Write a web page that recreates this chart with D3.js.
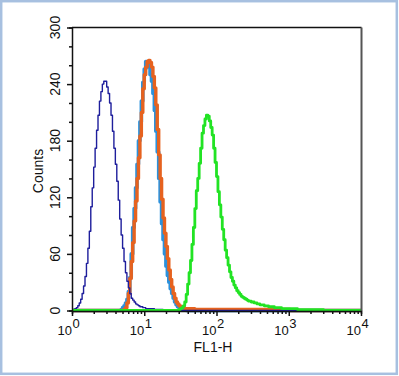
<!DOCTYPE html>
<html lang="en">
<head>
    <meta charset="UTF-8">
    <title>FL1-H histogram</title>
    <script src="https://d3js.org/d3.v7.min.js"></script>
    <style>
        body { margin: 0; background: #fff; }
        text { font-family: "Liberation Sans", Arial, sans-serif; fill: #111; }
    </style>
</head>
<body>
    <svg width="399" height="376"></svg>
    <script>
        // histogram channels: 200 bins, 0.02 decade each, from 10^0 to 10^4
        const binCount = 200;
        const binDecades = 0.02;

        // counts per bin, each series starts at its own bin index
        const navyStart = 0;
        const navyCounts = [1, 1, 2, 3, 5, 8, 12, 18, 26, 36, 50, 66, 84, 110, 130, 152, 172, 191, 207, 222,
            232, 240, 243, 243, 237, 230, 220, 207, 190, 172, 155, 137, 117, 97, 80, 66, 52, 40, 31, 24,
            18, 13, 11, 9, 7, 6, 5, 4, 4, 3, 3, 2, 2, 2, 2, 2, 2, 1, 1, 1, 1, 1, 1];

        const skyStart = 34;
        const skyCounts = [1, 3, 5, 8, 12, 20, 35, 60, 88, 108, 130, 155, 180, 200, 222, 242, 256, 264, 263, 258,
            250, 243, 230, 212, 190, 168, 140, 115, 92, 75, 60, 47, 37, 30, 23, 18, 13, 9, 6, 4,
            3, 2, 2, 1, 1];

        const orangeStart = 36;
        const orangeCounts = [1, 3, 8, 18, 34, 52, 72, 95, 116, 140, 162, 185, 210, 235, 250, 258, 264, 265, 263, 258,
            248, 236, 218, 192, 165, 140, 118, 98, 82, 68, 55, 43, 33, 25, 18, 13, 9, 7, 5, 4,
            3, 3, 2, 2, 2, 2, 2, 2, 2, 1, 1, 1, 1, 1, 1, 1, 1, 1, 1, 1,
            1, 1, 1, 1, 1, 1, 1, 1, 1, 1, 1, 1, 1, 1, 1, 1, 1, 1, 1, 1,
            1, 1, 1, 1, 1, 1, 1, 1, 1, 1, 1, 1, 1, 1, 1, 1, 1, 1, 1, 1,
            1, 1, 1, 1, 1, 1, 1, 1, 1, 1, 1, 1, 1, 1, 1];

        const greenStart = 74;
        const greenCounts = [1, 2, 3, 5, 9, 17, 28, 40, 53, 70, 88, 108, 127, 140, 156, 172, 188, 196, 203, 207,
            206, 201, 194, 186, 172, 157, 142, 126, 112, 99, 86, 75, 64, 56, 48, 41, 35, 31, 27, 24,
            21, 19, 17, 15, 14, 13, 12, 11, 10, 10, 9, 9, 8, 8, 7, 7, 6, 6, 6, 5,
            5, 5, 4, 4, 4, 4, 3, 3, 3, 3, 3, 2, 2, 2, 2, 2, 2, 2, 2, 2,
            2, 2, 1, 1, 1, 1, 1, 1, 1, 1, 1, 1, 1, 1, 1, 1, 1, 1, 1, 1];

        const yTicks = [0, 60, 120, 180, 240, 300];
        const xTicks = [1, 10, 100, 1000, 10000];
        const xExponents = ['0', '1', '2', '3', '4'];

        const svg = d3.select('svg');

        // outer light blue frame
        svg.append('rect')
            .attr('x', 1.2).attr('y', 1.2)
            .attr('width', 395.6).attr('height', 372.6)
            .attr('fill', '#fff')
            .attr('stroke', '#a7c0e0')
            .attr('stroke-width', 2.5);

        const x = d3.scaleLog().domain([1, 10000]).range([72, 361]);
        const y = d3.scaleLinear().domain([0, 300]).range([310.5, 27.5]);

        // expand a series into points at bin edges
        function series(start, counts) {
            const pts = [];
            for (let i = 0; i < binCount; i++) {
                const c = (i >= start && i < start + counts.length) ? counts[i - start] : 0;
                pts.push([Math.pow(10, i * binDecades), c]);
            }
            pts.push([Math.pow(10, binCount * binDecades), pts[pts.length - 1][1]]);
            return pts;
        }

        const line = d3.line()
            .x(d => x(d[0]))
            .y(d => y(d[1]))
            .curve(d3.curveStepAfter);

        const layers = [
            { pts: series(skyStart, skyCounts), color: '#2b91dc', width: 3.6 },
            { pts: series(orangeStart, orangeCounts), color: '#e6621f', width: 3.4 },
            { pts: series(navyStart, navyCounts), color: '#1e1e9c', width: 1.4 },
            { pts: series(greenStart, greenCounts), color: '#22e324', width: 2.8 }
        ];

        svg.append('g').selectAll('path')
            .data(layers)
            .join('path')
            .attr('d', d => line(d.pts))
            .attr('fill', 'none')
            .attr('stroke', d => d.color)
            .attr('stroke-width', d => d.width)
            .attr('stroke-linejoin', 'round');

        // frame top and right
        svg.append('line')
            .attr('x1', 72).attr('x2', 361.5).attr('y1', 27.5).attr('y2', 27.5)
            .attr('stroke', '#111').attr('stroke-width', 1.5);
        svg.append('line')
            .attr('x1', 361.5).attr('x2', 361.5).attr('y1', 27.5).attr('y2', 311)
            .attr('stroke', '#555').attr('stroke-width', 2);

        // y axis
        const yAxis = d3.axisLeft(y)
            .tickValues(d3.range(0, 301, 20))
            .tickSize(3)
            .tickFormat('');
        const gy = svg.append('g')
            .attr('transform', 'translate(72,0)')
            .call(yAxis);
        gy.selectAll('.tick line')
            .attr('x2', d => yTicks.includes(d) ? -5 : -3)
            .attr('stroke', '#111').attr('stroke-width', 1.5);
        gy.select('.domain').attr('stroke', '#111').attr('stroke-width', 1.5);

        svg.append('g').selectAll('text')
            .data(yTicks)
            .join('text')
            .attr('transform', d => `translate(60,${y(d)}) rotate(-90)`)
            .attr('text-anchor', 'middle')
            .attr('font-size', 14)
            .text(d => d);

        // x axis with log minor ticks
        const minor = [];
        for (let p = 0; p < 4; p++) {
            for (let m = 2; m < 10; m++) minor.push(m * Math.pow(10, p));
        }
        const xAxis = d3.axisBottom(x)
            .tickValues(xTicks.concat(minor))
            .tickSize(3)
            .tickFormat('');
        const gx = svg.append('g')
            .attr('transform', 'translate(0,311)')
            .call(xAxis);
        gx.selectAll('.tick line')
            .attr('y2', d => xTicks.includes(d) ? 5 : 3)
            .attr('stroke', '#111').attr('stroke-width', 1.5);
        gx.select('.domain').attr('stroke', '#111').attr('stroke-width', 1.5);

        const xl = svg.append('g').selectAll('g')
            .data(xTicks)
            .join('g')
            .attr('transform', d => `translate(${x(d)},0)`);
        xl.append('text')
            .attr('x', 0).attr('y', 335)
            .attr('text-anchor', 'end')
            .attr('font-size', 13)
            .text('10');
        xl.append('text')
            .attr('x', 0.5).attr('y', 328)
            .attr('font-size', 13)
            .text((d, i) => xExponents[i]);

        // axis titles
        svg.append('text')
            .attr('x', 213).attr('y', 352)
            .attr('text-anchor', 'middle')
            .attr('font-size', 14)
            .text('FL1-H');
        svg.append('text')
            .attr('transform', 'translate(43,171) rotate(-90)')
            .attr('text-anchor', 'middle')
            .attr('font-size', 14)
            .text('Counts');
    </script>
</body>
</html>
